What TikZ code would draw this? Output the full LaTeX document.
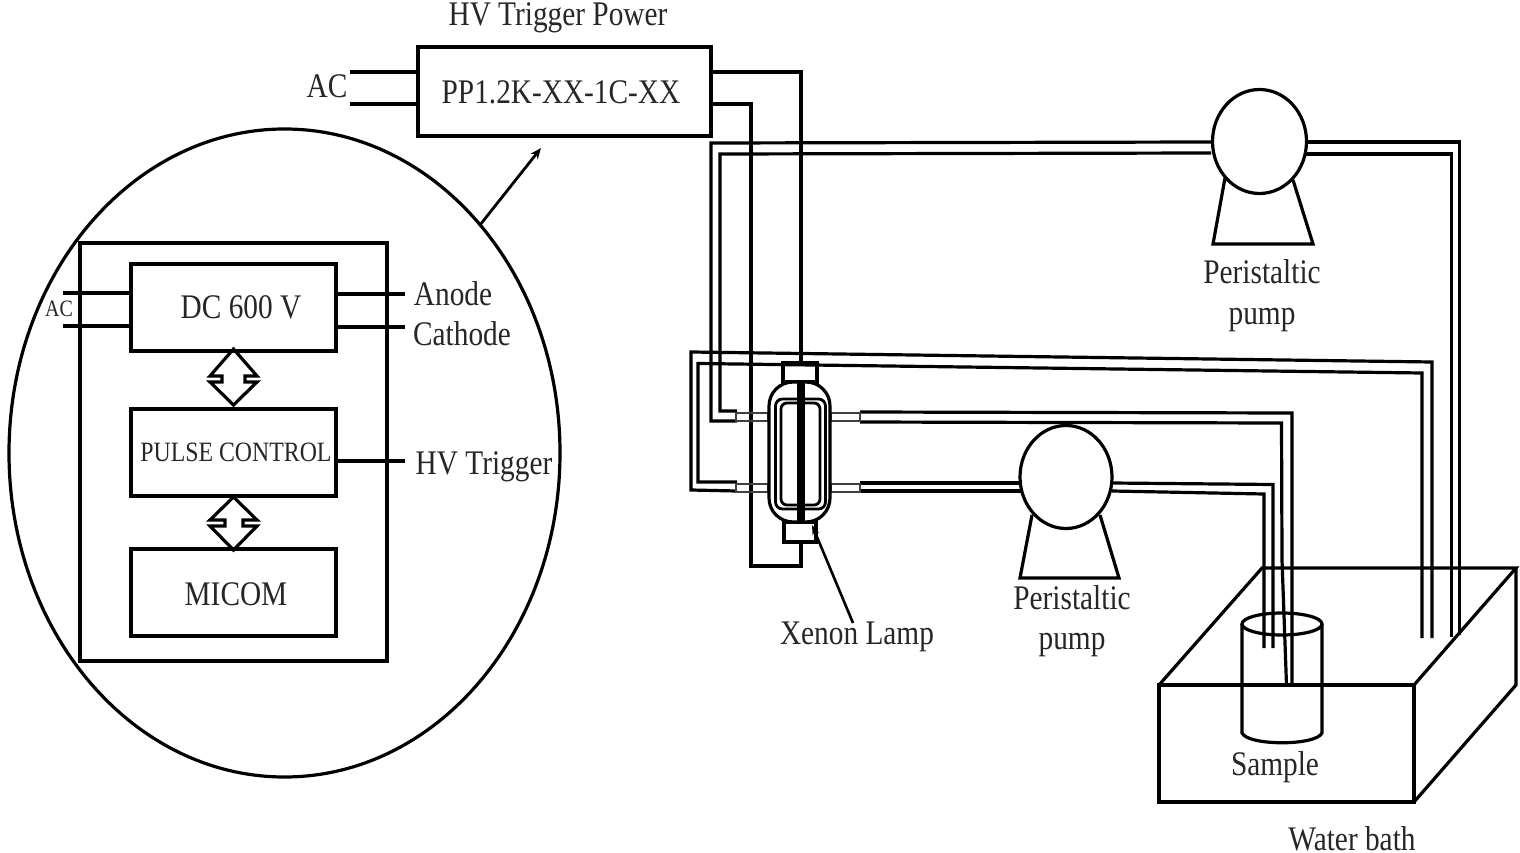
\documentclass[tikz,border=0pt]{standalone}
\usepackage{fontspec}
\setmainfont[FakeStretch=0.85]{Liberation Serif}
\usetikzlibrary{arrows.meta,shapes.geometric}
\tikzset{
  x=1pt,y=-1pt,
  line/.style={line width=3.2pt,draw=black,line join=miter},
  box/.style={draw=black,line width=3.2pt,fill=none,rectangle,outer sep=0pt,inner sep=0pt},
  lbl/.style={font=\fontsize{34.5}{38}\selectfont,inner sep=0pt,text=black!85,anchor=base},
  pumpbody/.style={draw=black,line width=3.2pt,ellipse,fill=white},
}
\begin{document}
\begin{tikzpicture}
\useasboundingbox (0,0) rectangle (1520,853);
% --- enlarged controller ---
\draw[line] (284.5,453) ellipse [x radius=275.5, y radius=324];
\node[box,minimum width=307pt,minimum height=418pt] (ctrl) at (233.5,452) {};
\node[box,minimum width=205pt,minimum height=87pt] (dc) at (233.5,307.5) {};
\node[box,minimum width=205pt,minimum height=87pt] (pulse) at (233.5,452.5) {};
\node[box,minimum width=205pt,minimum height=87pt] (micom) at (233.5,592.5) {};
\node[box,minimum width=293pt,minimum height=89pt] (hv) at (564.5,91.5) {};
\node[lbl] (lhvp) at (558,26) {HV Trigger Power};
\node[lbl] (lpp) at (561,104) {PP1.2K-XX-1C-XX};
\node[lbl] (lac) at (327,98) {AC};
\node[lbl,font=\fontsize{23.5}{26}\selectfont] (lac2) at (59,316) {AC};
\node[lbl] (ldc) at (241,318) {DC 600 V};
\node[lbl,font=\fontsize{28}{31}\selectfont] (lpc) at (236,461) {PULSE CONTROL};
\node[lbl] (lmi) at (236,605) {MICOM};
\node[lbl] (lan) at (453,305) {Anode};
\node[lbl] (lca) at (462,345) {Cathode};
\node[lbl] (lht) at (484,474) {HV Trigger};
% small wires
\coordinate (acA) at (350,72); \coordinate (acB) at (350,104);
\draw[line] (acA) -- (acA -| hv.west);
\draw[line] (acB) -- (acB -| hv.west);
\coordinate (ac2A) at (63,293); \coordinate (ac2B) at (63,326);
\draw[line] (ac2A) -- (ac2A -| dc.west);
\draw[line] (ac2B) -- (ac2B -| dc.west);
\coordinate (anE) at (405,294); \coordinate (caE) at (405,327); \coordinate (htE) at (405,461);
\draw[line] (anE -| dc.east) -- (anE);
\draw[line] (caE -| dc.east) -- (caE);
\draw[line] (htE -| pulse.east) -- (htE);
% double arrows
\draw[line] (233.5,349)--(257,376)--(245,376)--(245,382)--(257,382)--(233.5,405)--(210,382)--(222,382)--(222,376)--(210,376)--cycle;
\draw[line] (233.5,497)--(257,520)--(243,520)--(243,526)--(257,526)--(233.5,550)--(210,526)--(225,526)--(225,520)--(210,520)--cycle;
% pointer
\coordinate (ellE) at (480,225); \coordinate (hvA) at (541,148);
\draw[line,-{Stealth[length=11pt,width=9pt]},line width=2.8pt] (ellE) -- (hvA);
% --- HV output wires ---
\coordinate (hvT) at (801,362); \coordinate (hvU) at (801,543);
\coordinate (hvOA) at (711,72); \coordinate (hvOB) at (711,104);
\draw[line] (hvOA) -- (801,72) -- (hvT);
\draw[line] (hvOB) -- (751,104) -- (751,566) -- (801,566) -- (hvU);
% --- tubes ---
\draw[line] (1211,142) -- (711,143) -- (711,421) -- (737,421);
\draw[line] (1211,153) -- (720,154) -- (720,411) -- (737,411);
\draw[line] (1306,142) -- (1459.5,142) -- (1459.5,635);
\draw[line] (1306,154) -- (1451.5,154) -- (1451.5,637);
\draw[line] (737,491) -- (691,490) -- (691,352) -- (1432,362) -- (1432,638);
\draw[line] (737,482) -- (698,482) -- (698,363.5) -- (1422,373) -- (1422,638);
\draw[line] (860,412) -- (1292,413) -- (1292,685);
\draw[line] (860,422) -- (1281.5,423) -- (1282,560) -- (1286.5,685);
\draw[line] (860,483) -- (1021,483);
\draw[line] (860,491) -- (1021,491);
\draw[line] (1112,483) -- (1273,484.5) -- (1273,648);
\draw[line] (1112,491) -- (1264,494) -- (1264,648);
% --- lamp ---
\draw[line width=2.6pt,draw=black!75] (736,413) rectangle (768,421);
\draw[line width=2.6pt,draw=black!75] (736,484) rectangle (768,492);
\draw[line width=2.6pt,draw=black!75] (831,413) rectangle (860,421);
\draw[line width=2.6pt,draw=black!75] (831,484) rectangle (860,492);
\node[box,minimum width=34pt,minimum height=19pt] (ltop) at (800,372.5) {};
\node[box,minimum width=32pt,minimum height=20pt] (lbot) at (800,532) {};
\draw[line,fill=white,rounded corners=24pt] (769,382) rectangle (830,522);
\draw[line,rounded corners=7pt,line width=2.8pt] (775.5,399) rectangle (825.5,509);
\draw[line,rounded corners=6pt,line width=2.8pt] (781,403) rectangle (820,505);
\fill[black] (797,382) rectangle (805,522);
\draw[line,-{Stealth[length=10pt,width=7pt]},line width=2.6pt] (853,623) -- (812,525);
\node[lbl] (lxe) at (857,644) {Xenon Lamp};
% --- pumps ---
\draw[line,fill=white] (1225,178) -- (1213,244) -- (1313,244) -- (1293,180);
\node[pumpbody,minimum width=94pt,minimum height=104pt,inner sep=0pt,outer sep=0pt] (pumpA) at (1259.5,141.5) {};
\node[lbl] (lp1) at (1262,283) {Peristaltic};
\node[lbl] (lp2) at (1262,324) {pump};
\draw[line,fill=white] (1032,515) -- (1020,578) -- (1119,578) -- (1100,515);
\node[pumpbody,minimum width=92pt,minimum height=103pt,inner sep=0pt,outer sep=0pt] (pumpB) at (1066,477) {};
\node[lbl] (lp3) at (1072,609) {Peristaltic};
\node[lbl] (lp4) at (1072,649) {pump};
% --- water bath ---
\draw[line] (1159,685) rectangle (1414,802);
\draw[line] (1159,685) -- (1262,568) -- (1516,568) -- (1414,685);
\draw[line] (1516,568) -- (1516,685) -- (1414,802);
\draw[line] (1282,624) ellipse [x radius=40, y radius=11];
\draw[line] (1242,624) -- (1242,733) .. controls (1248,746) and (1316,746) .. (1322,733) -- (1322,624);
\node[lbl] (lsa) at (1275,775) {Sample};
\node[lbl] (lwb) at (1352,850) {Water bath};
\end{tikzpicture}
\end{document}
